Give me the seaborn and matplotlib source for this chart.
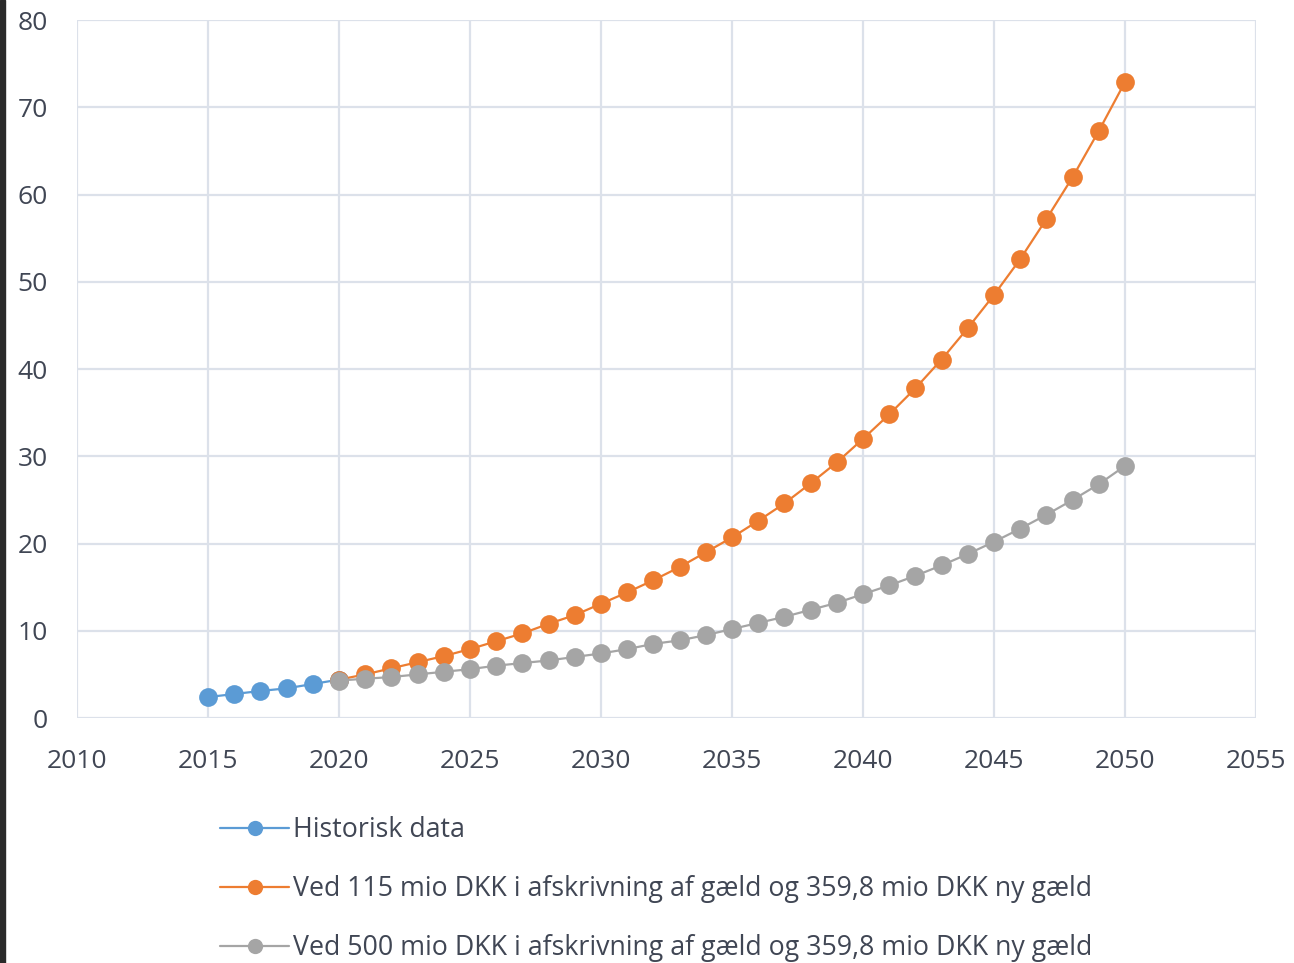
import numpy as np
import pandas as pd
import seaborn as sns
import matplotlib.pyplot as plt
from matplotlib.lines import Line2D
from matplotlib.patches import Rectangle

# data
hist_years = [2015, 2016, 2017, 2018, 2019, 2020]
hist_vals = [2.4, 2.75, 3.1, 3.4, 3.9, 4.4]

proj_years = list(range(2020, 2051))
vals_115 = [4.4, 5.0, 5.7, 6.4, 7.1, 7.9, 8.8, 9.7, 10.8, 11.8, 13.1,
            14.4, 15.8, 17.3, 19.0, 20.7, 22.6, 24.6, 26.9, 29.3, 32.0,
            34.8, 37.8, 41.1, 44.7, 48.5, 52.6, 57.2, 62.0, 67.3, 72.9]
vals_500 = [4.3, 4.5, 4.7, 5.0, 5.3, 5.6, 6.0, 6.3, 6.6, 7.0, 7.4,
            7.9, 8.5, 8.9, 9.5, 10.2, 10.9, 11.6, 12.4, 13.2, 14.2,
            15.2, 16.3, 17.5, 18.8, 20.2, 21.7, 23.3, 25.0, 26.8, 28.9]

labels = ["Historisk data",
          "Ved 115 mio DKK i afskrivning af gæld og 359,8 mio DKK ny gæld",
          "Ved 500 mio DKK i afskrivning af gæld og 359,8 mio DKK ny gæld"]
colors = ["#5B9BD5", "#ED7D31", "#A5A5A5"]

df = pd.concat([
    pd.DataFrame({"year": hist_years, "value": hist_vals, "serie": labels[0]}),
    pd.DataFrame({"year": proj_years, "value": vals_115, "serie": labels[1]}),
    pd.DataFrame({"year": proj_years, "value": vals_500, "serie": labels[2]}),
])

sns.set_style("white")
plt.rcParams["font.family"] = ["Open Sans", "DejaVu Sans"]

fig = plt.figure(figsize=(12.94, 9.63), dpi=100)
ax = fig.add_axes([0.0595, 0.2544, 0.9111, 0.7246])

sns.lineplot(data=df, x="year", y="value", hue="serie", hue_order=labels,
             palette=colors, marker="o", markersize=13.5, markeredgewidth=0,
             linewidth=1.6, legend=False, sort=False, ax=ax)

ax.set_xlim(2010, 2055)
ax.set_ylim(0, 80)
ax.set_xticks(np.arange(2010, 2056, 5))
ax.set_yticks(np.arange(0, 81, 10))
ax.grid(True, color="#DCE1EA", linewidth=1.6)
ax.set_axisbelow(True)
for s in ax.spines.values():
    s.set_visible(False)
ax.tick_params(axis="both", length=0, labelsize=19, colors="#404654")
ax.tick_params(axis="y", pad=21)
ax.tick_params(axis="x", pad=22)
ax.set_xlabel("")
ax.set_ylabel("")

handles = [Line2D([], [], color=c, marker="o", markersize=11,
                  markeredgewidth=0, linewidth=1.6) for c in colors]
leg = fig.legend(handles, labels, loc="upper left",
                 bbox_to_anchor=(0.1615, 0.1635), frameon=False,
                 fontsize=19.3, labelspacing=1.16, handlelength=2.6,
                 handletextpad=0.15, borderaxespad=0)
for t in leg.get_texts():
    t.set_color("#404654")

# dark strip along the left border of the screenshot
fig.patches.append(Rectangle((0, 0), 0.004, 1, transform=fig.transFigure,
                             color="#2a2a2a", zorder=10))

fig.savefig("out.png", dpi=100)
